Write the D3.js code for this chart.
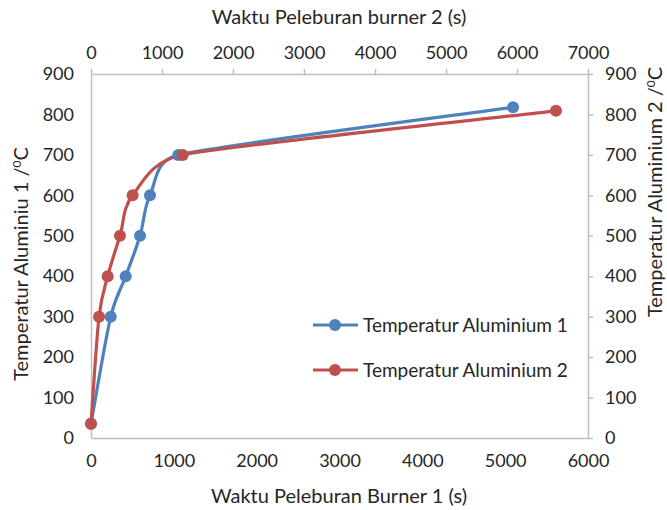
<!DOCTYPE html>
<html lang="en">
<head>
<meta charset="UTF-8">
<title>Temperatur Aluminium</title>
<script src="https://d3js.org/d3.v7.min.js"></script>
<style>
  body { margin: 0; background: #fff; }
  text { font-family: Lato, "Open Sans", sans-serif; fill: #262626; }
  .tick text { font-size: 18px; }
  .title { font-size: 20px; }
  .legend text { font-size: 19px; }
</style>
</head>
<body>
<svg width="667" height="510"></svg>
<script>
// burner 1 series (bottom axis)
var time1 = [0, 238, 419, 592, 712, 1054, 5095];
var temp1 = [35, 300, 400, 500, 600, 700, 818];
// burner 2 series (top axis)
var time2 = [0, 113, 235, 408, 587, 1291, 6549];
var temp2 = [35, 300, 400, 500, 600, 700, 809];

var seriesNames = ["Temperatur Aluminium 1", "Temperatur Aluminium 2"];
var colors = ["#4F81BD", "#C0504D"];

var svg = d3.select("svg");
var pLeft = 91, pRight = 588, pTop = 74, pBottom = 438;

var x1 = d3.scaleLinear().domain([0, 6000]).range([pLeft, pRight]);
var x2 = d3.scaleLinear().domain([0, 7000]).range([pLeft, pRight]);
var y = d3.scaleLinear().domain([0, 900]).range([pBottom, pTop]);
var fmt = d3.format("d");

function styleAxis(g) {
  g.selectAll("path, line").attr("stroke", "#bfbfbf").attr("stroke-width", 1.5);
  g.selectAll("text").attr("fill", "#262626");
}

svg.append("g").attr("transform", "translate(0," + pBottom + ")")
  .call(d3.axisBottom(x1).tickValues(d3.range(0, 6001, 1000)).tickFormat(fmt).tickSize(0).tickPadding(16))
  .call(styleAxis);
svg.append("g").attr("transform", "translate(0," + pTop + ")")
  .call(d3.axisTop(x2).tickValues(d3.range(0, 7001, 1000)).tickFormat(fmt).tickSize(5).tickSizeOuter(0).tickPadding(10))
  .call(styleAxis);
svg.append("g").attr("transform", "translate(" + pLeft + ",0)")
  .call(d3.axisLeft(y).tickValues(d3.range(0, 901, 100)).tickFormat(fmt).tickSize(0).tickPadding(17))
  .call(styleAxis);
svg.append("g").attr("transform", "translate(" + pRight + ",0)")
  .call(d3.axisRight(y).tickValues(d3.range(0, 901, 100)).tickFormat(fmt).tickSize(5).tickSizeOuter(0).tickPadding(12))
  .call(styleAxis);

// excel-ish smoothed line: bezier with tangent from neighbours, control arm capped
function smoothPath(pts) {
  var p = d3.path();
  function arm(i, j) {
    var a = pts[Math.max(i - 1, 0)], b = pts[Math.min(i + 1, pts.length - 1)];
    var dx = b[0] - a[0], dy = b[1] - a[1];
    var len = Math.hypot(dx, dy) || 1;
    var seg = Math.hypot(pts[j][0] - pts[i][0], pts[j][1] - pts[i][1]);
    var prev = i > 0 ? Math.hypot(pts[i][0] - pts[i - 1][0], pts[i][1] - pts[i - 1][1]) : seg;
    var next = i < pts.length - 1 ? Math.hypot(pts[i + 1][0] - pts[i][0], pts[i + 1][1] - pts[i][1]) : seg;
    var L = Math.min(len / 6, 0.45 * Math.min(prev, next) + 0.05 * seg);
    var s = j > i ? 1 : -1;
    return [pts[i][0] + s * dx / len * L, pts[i][1] + s * dy / len * L];
  }
  p.moveTo(pts[0][0], pts[0][1]);
  for (var i = 0; i < pts.length - 1; i++) {
    var c1 = arm(i, i + 1), c2 = arm(i + 1, i);
    p.bezierCurveTo(c1[0], c1[1], c2[0], c2[1], pts[i + 1][0], pts[i + 1][1]);
  }
  return p.toString();
}

var pts1 = temp1.map(function(d, i) { return [x1(time1[i]), y(d)]; });
var pts2 = temp2.map(function(d, i) { return [x2(time2[i]), y(d)]; });

svg.append("path").attr("d", smoothPath(pts1))
  .attr("fill", "none").attr("stroke", colors[0]).attr("stroke-width", 3.2);
svg.append("path").attr("d", smoothPath(pts2))
  .attr("fill", "none").attr("stroke", colors[1]).attr("stroke-width", 3.2);

svg.append("g").selectAll("circle").data(pts1).enter().append("circle")
  .attr("cx", function(d) { return d[0]; }).attr("cy", function(d) { return d[1]; })
  .attr("r", 6).attr("fill", colors[0]);
svg.append("g").selectAll("circle").data(pts2).enter().append("circle")
  .attr("cx", function(d) { return d[0]; }).attr("cy", function(d) { return d[1]; })
  .attr("r", 6).attr("fill", colors[1]);

// axis titles
svg.append("text").attr("class", "title").attr("x", 339).attr("y", 24)
  .attr("text-anchor", "middle").text("Waktu Peleburan burner 2 (s)");
svg.append("text").attr("class", "title").attr("x", 339).attr("y", 503)
  .attr("text-anchor", "middle").text("Waktu Peleburan Burner 1 (s)");

var lt = svg.append("text").attr("class", "title").attr("text-anchor", "middle")
  .attr("transform", "translate(28,264) rotate(-90)");
lt.append("tspan").text("Temperatur Aluminiu 1 /");
lt.append("tspan").attr("font-size", "12px").attr("dy", -7).text("0");
lt.append("tspan").attr("dy", 7).text("C");

var rt = svg.append("text").attr("class", "title").attr("text-anchor", "middle")
  .attr("transform", "translate(662,192) rotate(-90)");
rt.append("tspan").text("Temperatur Aluminium 2 /");
rt.append("tspan").attr("font-size", "12px").attr("dy", -7).text("0");
rt.append("tspan").attr("dy", 7).text("C");

// legend
var legend = svg.append("g").attr("class", "legend");
seriesNames.forEach(function(name, i) {
  var ly = 325 + i * 45;
  legend.append("line").attr("x1", 313).attr("x2", 358).attr("y1", ly).attr("y2", ly)
    .attr("stroke", colors[i]).attr("stroke-width", 3.2);
  legend.append("circle").attr("cx", 335).attr("cy", ly).attr("r", 6).attr("fill", colors[i]);
  legend.append("text").attr("x", 363).attr("y", ly).attr("dy", "0.35em").text(name);
});
</script>
</body>
</html>
